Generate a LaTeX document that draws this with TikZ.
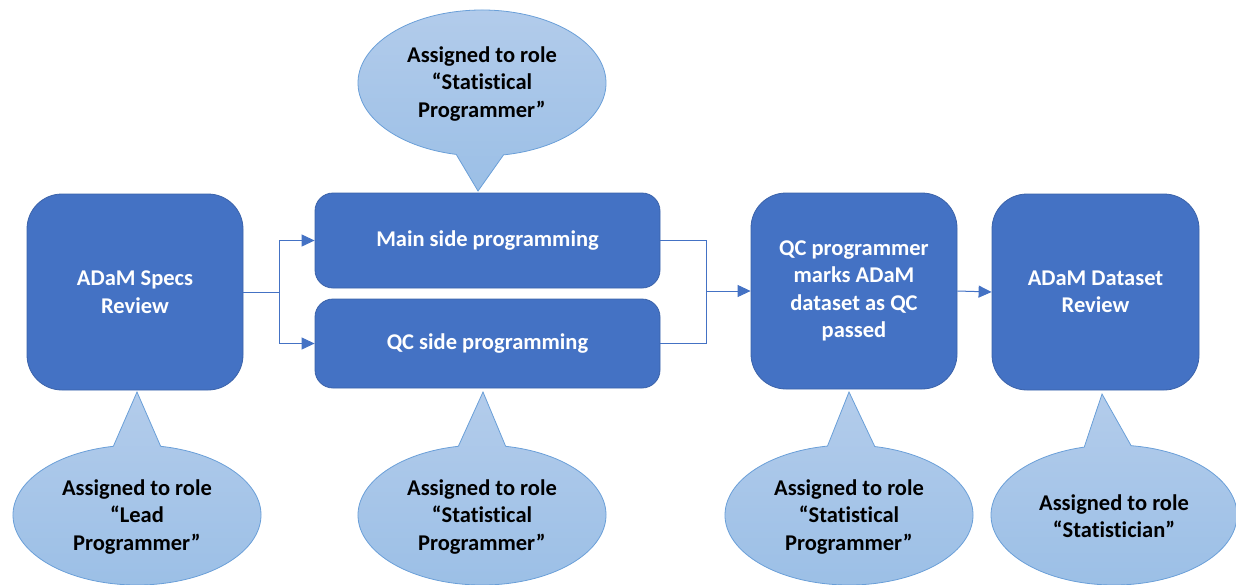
\documentclass[tikz,border=0pt]{standalone}
\usepackage{fontspec}
\setmainfont[Ligatures={NoCommon,NoRare,NoDiscretionary}]{Carlito}
\usetikzlibrary{arrows.meta,calc}
\definecolor{boxblue}{HTML}{4472C4}
\definecolor{boxedge}{HTML}{3A62AA}
\definecolor{calltop}{HTML}{B3CCEB}
\definecolor{callbot}{HTML}{9BBFE6}
\definecolor{calledge}{HTML}{6A9FD8}
\begin{document}
\begin{tikzpicture}[x=1pt,y=1pt,
  txt/.style={font=\bfseries\fontsize{22.5}{27.5}\selectfont, align=center},
  bigbox/.style={txt, rectangle, rounded corners=35pt, fill=boxblue, draw=boxedge, line width=0.8pt, text=white, inner sep=0pt},
  smallbox/.style={bigbox, rounded corners=18pt},
  callshape/.style={top color=calltop, bottom color=callbot, draw=calledge, line width=0.8pt},
  calltext/.style={txt, text=black, inner sep=0pt},
  conn/.style={draw=boxblue, line width=1pt},
  arr/.style={conn, -{Triangle[length=13pt,width=12pt]}}]
\useasboundingbox (0,0) rectangle (1236,-584);

% boxes
\node[bigbox, minimum width=216pt, minimum height=196pt] (specs) at (135,-292) {ADaM Specs\\Review};
\node[smallbox, minimum width=345pt, minimum height=95pt] (main) at (487.5,-240.5) {Main side programming};
\node[smallbox, minimum width=345pt, minimum height=89pt] (qcside) at (487.5,-343.5) {QC side programming};
\node[bigbox, minimum width=206pt, minimum height=196pt] (qcpm) at (854,-291) {QC programmer\\marks ADaM\\dataset as QC\\passed};
\node[bigbox, minimum width=207pt, minimum height=196pt] (dataset) at (1095.5,-292) {ADaM Dataset\\Review};

% connectors
\coordinate (j1) at (279,-292);
\coordinate (j2) at (706,-291);
\draw[conn] (specs.east) -- (j1);
\draw[arr] (j1) |- (main.west);
\draw[arr] (j1) |- (qcside.west);
\draw[conn] (main.east) -| (j2);
\draw[conn] (qcside.east) -| (j2);
\draw[arr] (j2) -- (qcpm.west);
\draw[arr] (qcpm.east) -- (dataset.west);

% callouts
\path[callshape] (478,-191) -- ([shift={(482,-83)}]-80:124 and 73)
  arc[start angle=-80, end angle=258, x radius=124, y radius=73] -- cycle;
\node[calltext] (c1) at (482,-84) {Assigned to role\\“Statistical\\Programmer”};

\path[callshape] (137,-392) -- ([shift={(137,-515)}]79:124 and 70)
  arc[start angle=79, end angle=-259, x radius=124, y radius=70] -- cycle;
\node[calltext] (c2) at (137,-517) {Assigned to role\\“Lead\\Programmer”};

\path[callshape] (483,-392) -- ([shift={(482,-515)}]79:124 and 70)
  arc[start angle=79, end angle=-259, x radius=124, y radius=70] -- cycle;
\node[calltext] (c3) at (482,-517) {Assigned to role\\“Statistical\\Programmer”};

\path[callshape] (849,-392) -- ([shift={(849,-515)}]78:124 and 70)
  arc[start angle=78, end angle=-260, x radius=124, y radius=70] -- cycle;
\node[calltext] (c4) at (849,-517) {Assigned to role\\“Statistical\\Programmer”};

\path[callshape] (1102,-394) -- ([shift={(1114,-515)}]82:123 and 70)
  arc[start angle=82, end angle=-256, x radius=123, y radius=70] -- cycle;
\node[calltext] (c5) at (1114,-516) {Assigned to role\\“Statistician”};
\end{tikzpicture}
\end{document}
